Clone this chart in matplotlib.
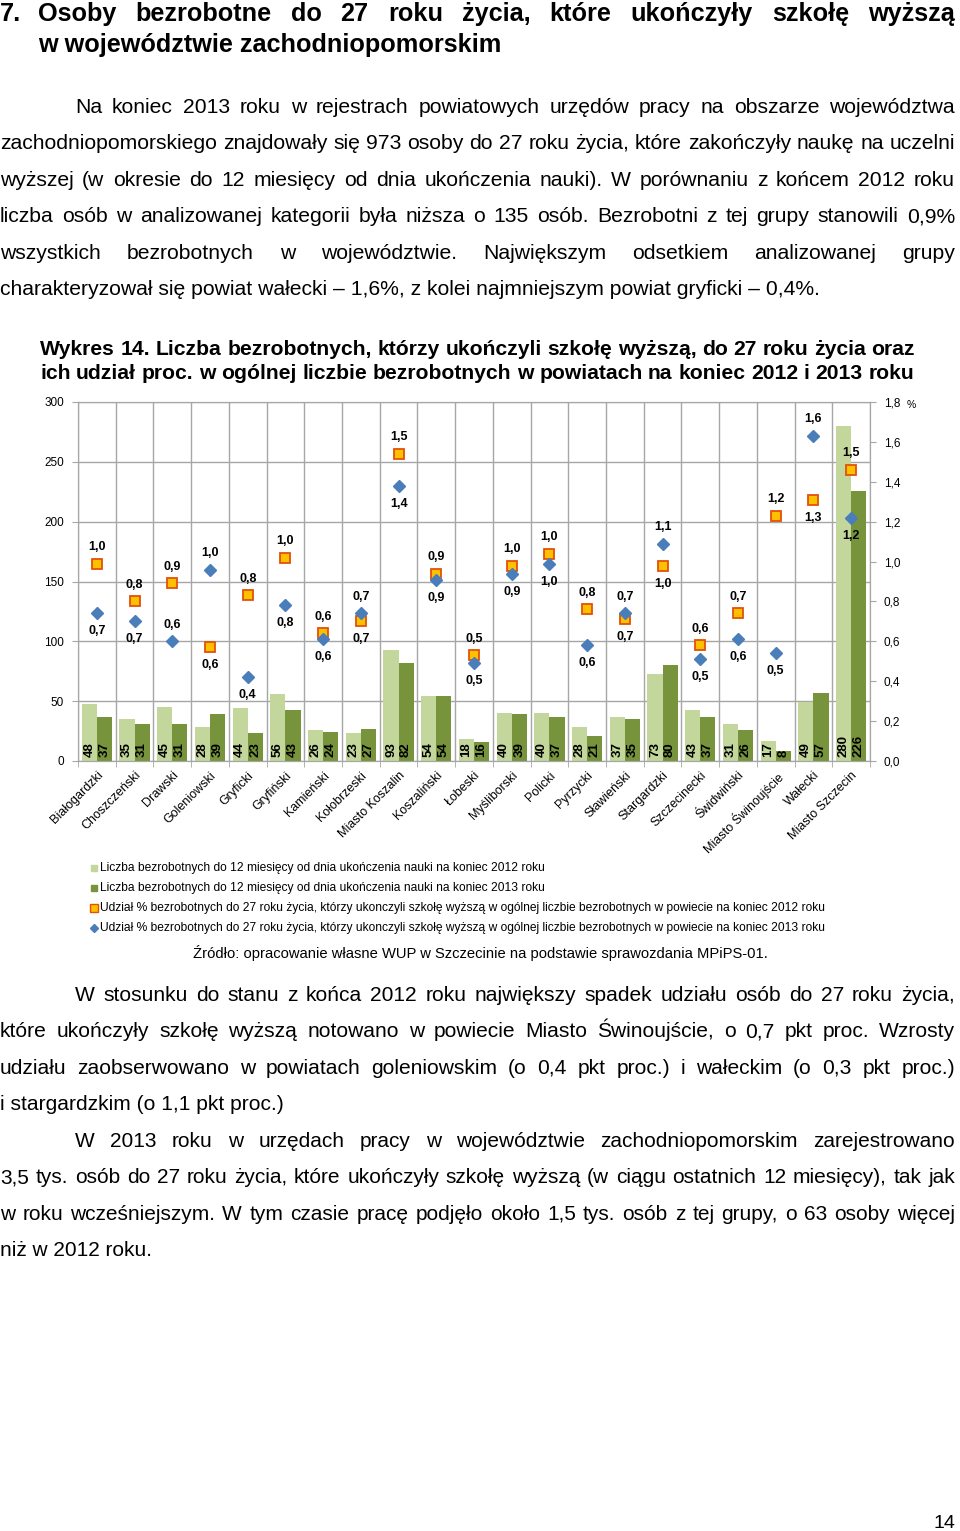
import numpy as np
import matplotlib
matplotlib.use('Agg')
import matplotlib.pyplot as plt
from matplotlib.lines import Line2D

W, H = 960, 1531
plt.rcParams['font.family'] = ['Liberation Sans', 'DejaVu Sans']

# --- data ---
powiaty = ['Białogardzki', 'Choszczeński', 'Drawski', 'Goleniowski', 'Gryficki',
           'Gryfiński', 'Kamieński', 'Kołobrzeski', 'Miasto Koszalin', 'Koszaliński',
           'Łobeski', 'Myśliborski', 'Policki', 'Pyrzycki', 'Sławieński',
           'Stargardzki', 'Szczecinecki', 'Świdwiński', 'Miasto Świnoujście',
           'Wałecki', 'Miasto Szczecin']
bezrob_2012 = [48, 35, 45, 28, 44, 56, 26, 23, 93, 54, 18, 40, 40, 28, 37, 73, 43, 31, 17, 49, 280]
bezrob_2013 = [37, 31, 31, 39, 23, 43, 24, 27, 82, 54, 16, 39, 37, 21, 35, 80, 37, 26, 8, 57, 226]
udzial_2012 = [0.99, 0.80, 0.89, 0.57, 0.83, 1.02, 0.64, 0.70, 1.54, 0.94, 0.53,
               0.98, 1.04, 0.76, 0.71, 0.98, 0.58, 0.74, 1.23, 1.31, 1.46]
udzial_2013 = [0.74, 0.70, 0.60, 0.96, 0.42, 0.78, 0.61, 0.74, 1.38, 0.91, 0.49,
               0.94, 0.99, 0.58, 0.74, 1.09, 0.51, 0.61, 0.54, 1.63, 1.22]

legend_labels = [
    'Liczba bezrobotnych do 12 miesięcy od dnia ukończenia nauki na koniec 2012 roku',
    'Liczba bezrobotnych do 12 miesięcy od dnia ukończenia nauki na koniec 2013 roku',
    'Udział % bezrobotnych do 27 roku życia, którzy ukonczyli szkołę wyższą w ogólnej liczbie bezrobotnych w powiecie na koniec 2012 roku',
    'Udział % bezrobotnych do 27 roku życia, którzy ukonczyli szkołę wyższą w ogólnej liczbie bezrobotnych w powiecie na koniec 2013 roku',
]

heading = ['Osoby bezrobotne do 27 roku życia, które ukończyły szkołę wyższą',
           'w województwie zachodniopomorskim']
para1 = ['Na koniec 2013 roku w rejestrach powiatowych urzędów pracy na obszarze województwa',
         'zachodniopomorskiego znajdowały się 973 osoby do 27 roku życia, które zakończyły naukę na uczelni',
         'wyższej (w okresie do 12 miesięcy od dnia ukończenia nauki). W porównaniu z końcem 2012 roku',
         'liczba osób w analizowanej kategorii była niższa o 135 osób. Bezrobotni z tej grupy stanowili 0,9%',
         'wszystkich bezrobotnych w województwie. Największym odsetkiem analizowanej grupy',
         'charakteryzował się powiat wałecki – 1,6%, z kolei najmniejszym powiat gryficki – 0,4%.']
title = ['Wykres 14. Liczba bezrobotnych, którzy ukończyli szkołę wyższą, do 27 roku życia oraz',
         'ich udział proc. w ogólnej liczbie bezrobotnych w powiatach na koniec 2012 i 2013 roku']
para2 = ['W stosunku do stanu z końca 2012 roku największy spadek udziału osób do 27 roku życia,',
         'które ukończyły szkołę wyższą notowano w powiecie Miasto Świnoujście, o 0,7 pkt proc. Wzrosty',
         'udziału zaobserwowano w powiatach goleniowskim (o 0,4 pkt proc.) i wałeckim (o 0,3 pkt proc.)',
         'i stargardzkim (o 1,1 pkt proc.)']
para3 = ['W 2013 roku w urzędach pracy w województwie zachodniopomorskim zarejestrowano',
         '3,5 tys. osób do 27 roku życia, które ukończyły szkołę wyższą (w ciągu ostatnich 12 miesięcy), tak jak',
         'w roku wcześniejszym. W tym czasie pracę podjęło około 1,5 tys. osób z tej grupy, o 63 osoby więcej',
         'niż w 2012 roku.']
zrodlo = 'Źródło: opracowanie własne WUP w Szczecinie na podstawie sprawozdania MPiPS-01.'

fig = plt.figure(figsize=(W / 100, H / 100), dpi=100)
fig.canvas.draw()
r = fig.canvas.get_renderer()


def fy(y):
    return 1 - y / H


def width_of(s, size, weight='normal'):
    t = fig.text(0, 0, s, fontsize=size, fontweight=weight)
    w = t.get_window_extent(r).width
    t.remove()
    return w


def draw_line(s, x0, x1, y, size, weight='normal'):
    if x1 is not None:
        # squeeze a line that would not fit its span
        nat = width_of(s, size, weight)
        if nat > x1 - x0:
            size = size * (x1 - x0) / nat
    kw = dict(fontsize=size, fontweight=weight, va='baseline')
    if x1 is None:
        fig.text(x0 / W, fy(y), s, **kw)
        return
    words = s.split()
    arts = [fig.text(0, fy(y), w, **kw) for w in words]
    ws = [a.get_window_extent(r).width for a in arts]
    gap = (x1 - x0 - sum(ws)) / (len(words) - 1)
    x = x0
    for a, w in zip(arts, ws):
        a.set_x(x / W)
        x += w + gap


def draw_block(lines, spans, ys, ref_line, ref_width, weight='normal'):
    # size set from the width of one unjustified line in the reference
    size = 13 * ref_width / width_of(lines[ref_line], 13, weight)
    for s, (x0, x1), y in zip(lines, spans, ys):
        draw_line(s, x0, x1, y, size, weight)
    return size


# heading
hs = draw_block(heading, [(38, 955), (38, None)], [21, 52], 1, 463, 'bold')
fig.text(0, fy(21), '7.', fontsize=hs, fontweight='bold', va='baseline')

# paragraph 1
ys1 = [113 + 36.4 * i for i in range(6)]
draw_block(para1, [(75, 955)] + [(0, 955)] * 4 + [(0, None)], ys1, 5, 819)

# chart title
draw_block(title, [(40, 915), (40, 914)], [355, 379], 0, 875, 'bold')

# paragraphs 2 and 3
ys2 = [1001 + 36.4 * i for i in range(4)]
draw_block(para2, [(75, 955), (0, 955), (0, 955), (0, None)], ys2, 3, 283)
ys3 = [1147 + 36.4 * i for i in range(4)]
draw_block(para3, [(75, 955), (0, 955), (0, 955), (0, None)], ys3, 3, 152)

# --- chart ---
grid_c = '#a6a6a6'
n = len(powiaty)
x = np.arange(n)
bw = 0.4

ax = fig.add_axes([78 / W, 1 - 761 / H, 792 / W, 359 / H])
ax.set_axisbelow(True)
ax.bar(x - bw / 2, bezrob_2012, bw, color='#c3d69b', zorder=2)
ax.bar(x + bw / 2, bezrob_2013, bw, color='#77933c', zorder=2)
for xi, a, b in zip(x, bezrob_2012, bezrob_2013):
    for xx, v in ((xi - bw / 2, a), (xi + bw / 2, b)):
        ax.annotate(str(v), (xx, 0), xytext=(0, 3), textcoords='offset points',
                    rotation=90, ha='center', va='bottom', fontsize=9.5,
                    fontweight='bold', zorder=3)

ax.set_xlim(-0.5, n - 0.5)
ax.set_ylim(0, 300)
ax.set_yticks(range(0, 301, 50))
ax.set_xticks(x)
ax.set_xticklabels(powiaty, rotation=45, ha='right', rotation_mode='anchor', fontsize=9)
ax.set_xticks(np.arange(-0.5, n, 1), minor=True)
ax.tick_params(axis='x', which='major', length=0, pad=6)
ax.tick_params(axis='x', which='minor', length=4, color=grid_c)
ax.tick_params(axis='y', length=4, color=grid_c, labelsize=8.5, pad=6)
ax.grid(axis='y', color=grid_c, lw=1)
ax.grid(axis='x', which='minor', color=grid_c, lw=1)
for sp in ax.spines.values():
    sp.set_color(grid_c)

ax2 = ax.twinx()
ax2.set_ylim(0, 1.8)
ticks = np.arange(0, 1.81, 0.2)
ax2.set_yticks(ticks)
ax2.set_yticklabels([f'{t:.1f}'.replace('.', ',') for t in ticks], fontsize=8.5)
ax2.tick_params(axis='y', length=4, color=grid_c, pad=6)
for sp in ax2.spines.values():
    sp.set_color(grid_c)
ax2.plot(x, udzial_2012, ls='none', marker='s', ms=7.5, mfc='#ffc000', mec='#e2520a', mew=1.3, zorder=4)
ax2.plot(x, udzial_2013, ls='none', marker='D', ms=6.5, mfc='#4a7ebb', mec='#4a7ebb', zorder=5)

for i in range(n):
    a, b = udzial_2012[i], udzial_2013[i]
    up_a = a >= b
    up_b = b > a or powiaty[i] == 'Drawski'
    for v, up in ((a, up_a), (b, up_b)):
        ax2.annotate(f'{v:.1f}'.replace('.', ','), (i, v), xytext=(0, 12 if up else -13),
                     textcoords='offset points', ha='center', va='center',
                     fontsize=9, fontweight='bold', zorder=6)
fig.text(907 / W, fy(408), '%', fontsize=7.5)

# legend
leg_y = [868, 888, 908, 928]
leg_markers = [dict(marker='s', ms=5, mfc='#c3d69b', mec='#c3d69b'),
               dict(marker='s', ms=5, mfc='#77933c', mec='#77933c'),
               dict(marker='s', ms=5.5, mfc='#ffc000', mec='#e2520a', mew=1),
               dict(marker='D', ms=4, mfc='#4a7ebb', mec='#4a7ebb')]
leg_size = 8 * (732 / width_of(legend_labels[2], 8))
for y, lab, mk in zip(leg_y, legend_labels, leg_markers):
    fig.add_artist(Line2D([94 / W], [fy(y)], transform=fig.transFigure, ls='none', **mk))
    fig.text(100 / W, fy(y), lab, fontsize=leg_size, va='center')

src_size = 10 * (571 / width_of(zrodlo, 10))
fig.text(480 / W, fy(958), zrodlo, fontsize=src_size, ha='center', va='baseline')

fig.text(955 / W, fy(1528), '14', fontsize=14, ha='right', va='baseline')

fig.savefig('out.png', dpi=100)
